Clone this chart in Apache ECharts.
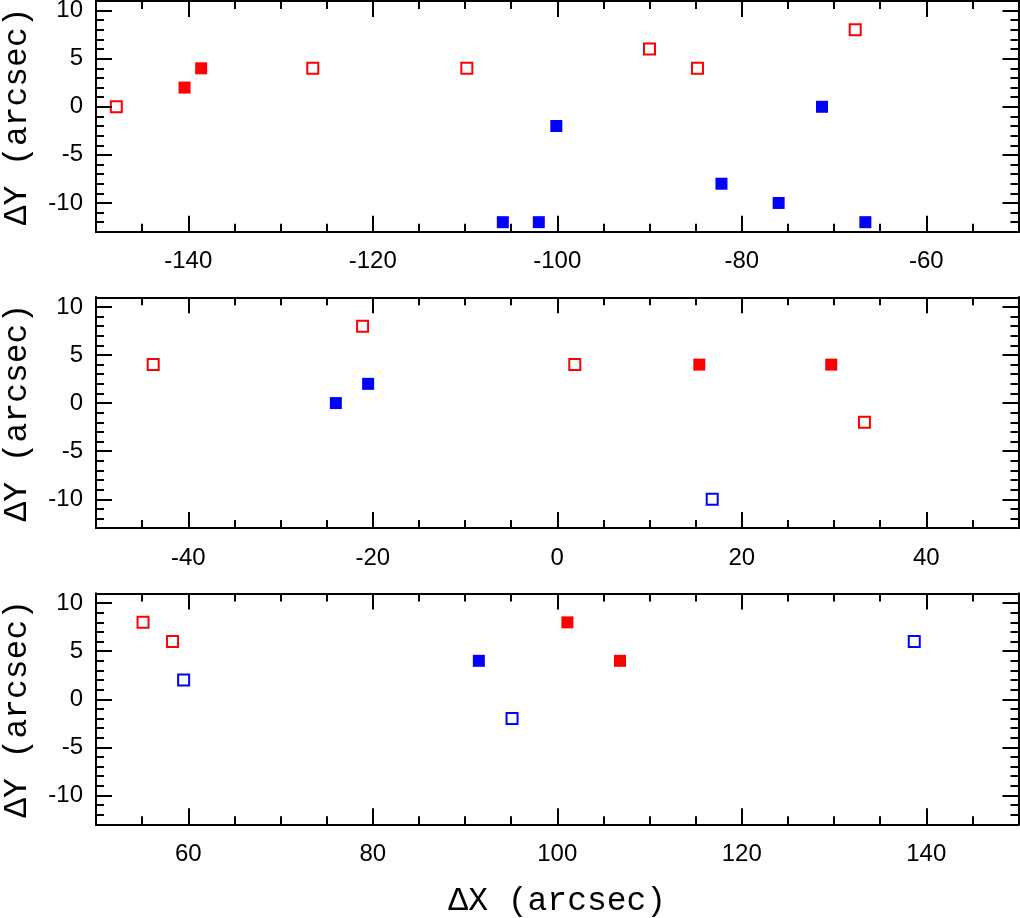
<!DOCTYPE html>
<html>
<head>
<meta charset="utf-8">
<script src="https://cdn.jsdelivr.net/npm/echarts@6/dist/echarts.min.js"></script>
<style>
html,body{margin:0;padding:0;background:#fff;}
#chart{width:1020px;height:918px;}
</style>
</head>
<body>
<div id="chart"></div>
<script>
// ---- Data (ΔX, ΔY in arcsec) ----
const filledRed1  = [[-140.4, 2], [-138.6, 4]];
const openRed1    = [[-147.8, 0], [-126.5, 4], [-109.8, 4], [-90.0, 6], [-84.8, 4], [-67.7, 8]];
const filledBlue1 = [[-105.9, -12], [-102.0, -12], [-100.1, -2], [-82.2, -8], [-76.0, -10], [-71.3, 0], [-66.6, -12]];
const openBlue1   = [];

const filledRed2  = [[15.4, 4], [29.7, 4]];
const openRed2    = [[-43.8, 4], [-21.1, 8], [1.9, 4], [33.3, -2]];
const filledBlue2 = [[-24.0, 0], [-20.5, 2]];
const openBlue2   = [[16.8, -10]];

const filledRed3  = [[101.1, 8], [106.8, 4]];
const openRed3    = [[55.1, 8], [58.3, 6]];
const filledBlue3 = [[91.5, 4]];
const openBlue3   = [[59.5, 2], [95.1, -2], [138.7, 6]];

// ---- Axis ranges and tick labels ----
const xRange1 = [-150, -50];
const xRange2 = [-50, 50];
const xRange3 = [50, 150];
const xTicks1 = [-140, -120, -100, -80, -60];
const xTicks2 = [-40, -20, 0, 20, 40];
const xTicks3 = [60, 80, 100, 120, 140];
const yRange  = [-13, 11];
const yTicks  = [-10, -5, 0, 5, 10];
const xMinorStep = 5;
const yMinorStep = 1;

const RED = '#ff0000', BLUE = '#0000ff';
const LABEL_FONT = 'Liberation Sans, Arial, Helvetica, sans-serif';
const NAME_FONT = 'Liberation Mono, Courier New, monospace';

function minorValues(range, step, majors) {
  const out = [];
  const start = Math.ceil(range[0] / step) * step;
  for (let v = start; v <= range[1] + 1e-9; v += step) {
    if (majors.indexOf(v) < 0 && v > range[0] && v < range[1]) out.push(v);
  }
  return out;
}

function makeAxis(gridIndex, position, range, ticks, len, showLabel, isX, name) {
  const a = {
    type: 'value',
    gridIndex: gridIndex,
    position: position,
    min: range[0],
    max: range[1],
    axisLine: { show: true, onZero: false, lineStyle: { color: '#000', width: 2 } },
    axisTick: { show: true, inside: true, length: len, customValues: ticks, lineStyle: { color: '#000', width: 2 } },
    axisLabel: {
      show: showLabel,
      customValues: ticks,
      color: '#000',
      fontFamily: LABEL_FONT,
      fontSize: 24,
      margin: isX ? 18 : 13
    },
    splitLine: { show: false },
    minorTick: { show: false },
    z: 5
  };
  if (name) {
    a.name = name;
    a.nameLocation = 'middle';
    a.nameGap = isX ? 60 : 62;
    a.nameTextStyle = { fontFamily: NAME_FONT, fontSize: 33, color: '#000' };
  }
  return a;
}

const gridBase = { left: 96, right: 1.5, height: 230.8, outerBoundsMode: 'none', containLabel: false };
const grids = [
  Object.assign({}, gridBase, { top: 1 }),
  Object.assign({}, gridBase, { top: 297.3 }),
  Object.assign({}, gridBase, { top: 593.5 })
];

const xRanges = [xRange1, xRange2, xRange3];
const xTickSets = [xTicks1, xTicks2, xTicks3];
const panels = [
  [filledRed1, openRed1, filledBlue1, openBlue1],
  [filledRed2, openRed2, filledBlue2, openBlue2],
  [filledRed3, openRed3, filledBlue3, openBlue3]
];

const xAxes = [], yAxes = [], series = [];
for (let g = 0; g < 3; g++) {
  const xr = xRanges[g], xt = xTickSets[g];
  const xm = minorValues(xr, xMinorStep, xt);
  const ym = minorValues(yRange, yMinorStep, yTicks);
  const xBase = xAxes.length, yBase = yAxes.length;
  xAxes.push(makeAxis(g, 'bottom', xr, xt, 16, true, true, g === 2 ? 'ΔX (arcsec)' : null));
  xAxes.push(makeAxis(g, 'bottom', xr, xm, 8, false, true, null));
  xAxes.push(makeAxis(g, 'top', xr, xt, 16, false, true, null));
  xAxes.push(makeAxis(g, 'top', xr, xm, 8, false, true, null));
  yAxes.push(makeAxis(g, 'left', yRange, yTicks, 16, true, false, 'ΔY (arcsec)'));
  yAxes.push(makeAxis(g, 'left', yRange, ym, 8, false, false, null));
  yAxes.push(makeAxis(g, 'right', yRange, yTicks, 16, false, false, null));
  yAxes.push(makeAxis(g, 'right', yRange, ym, 8, false, false, null));

  const [fr, or, fb, ob] = panels[g];
  const common = { type: 'scatter', xAxisIndex: xBase, yAxisIndex: yBase, symbol: 'rect', z: 3 };
  series.push(Object.assign({}, common, { data: fr, symbolSize: 12, itemStyle: { color: RED, opacity: 1 } }));
  series.push(Object.assign({}, common, { data: or, symbolSize: 11, itemStyle: { color: '#fff', borderColor: RED, borderWidth: 2, opacity: 1 } }));
  series.push(Object.assign({}, common, { data: fb, symbolSize: 12, itemStyle: { color: BLUE, opacity: 1 } }));
  series.push(Object.assign({}, common, { data: ob, symbolSize: 11, itemStyle: { color: '#fff', borderColor: BLUE, borderWidth: 2, opacity: 1 } }));
}

const chart = echarts.init(document.getElementById('chart'), null, { renderer: 'canvas' });
chart.setOption({
  animation: false,
  backgroundColor: '#fff',
  grid: grids,
  xAxis: xAxes,
  yAxis: yAxes,
  series: series
});
</script>
</body>
</html>
